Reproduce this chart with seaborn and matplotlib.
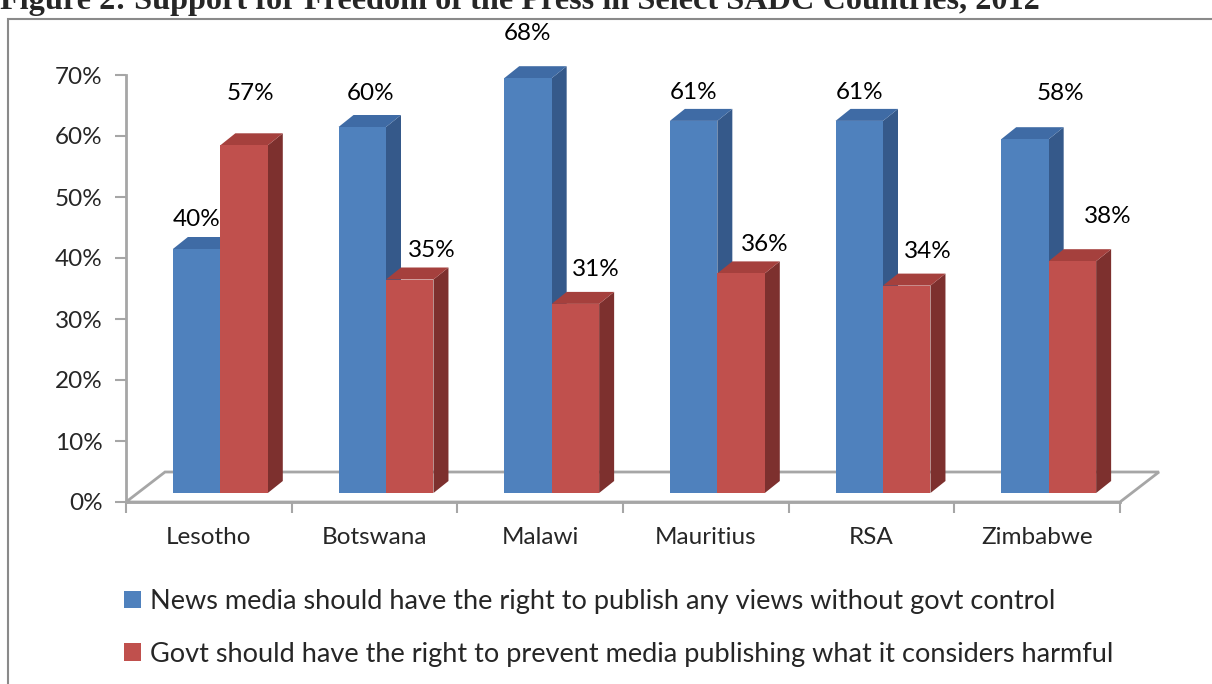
import numpy as np
import pandas as pd
import matplotlib
matplotlib.use("Agg")
import matplotlib.pyplot as plt
import seaborn as sns
from matplotlib.patches import Polygon, Rectangle, Patch
from matplotlib.transforms import ScaledTranslation, IdentityTransform

# ---- data ----
countries = ["Lesotho", "Botswana", "Malawi", "Mauritius", "RSA", "Zimbabwe"]
news_media = [40, 60, 68, 61, 61, 58]
govt_control = [57, 35, 31, 36, 34, 38]
series_names = [
    "News media should have the right to publish any views without govt control",
    "Govt should have the right to prevent media publishing what it considers harmful",
]
y_ticks = [0, 10, 20, 30, 40, 50, 60, 70]
title = "Figure 2: Support for Freedom of the Press in Select SADC Countries, 2012"

# ---- style ----
BLUE, BLUE_SIDE, BLUE_TOP = "#4F81BD", "#35598A", "#3F6BA5"
RED, RED_SIDE, RED_TOP = "#C0504D", "#7D302E", "#A5403D"
GRID = "#A6A6A6"
FS = 17.5
FS_LEG = 19.5

# label offsets (pixels, relative to bar front-top centre)
blue_label_off = [(0, 29), (8, 34), (0, 45), (0, 28), (0, 28), (36, 46)]
red_label_off = [(6, 52), (22, 29), (20, 34), (24, 29), (21, 34), (35, 45)]

sns.set_theme(style="white")
plt.rcParams["font.family"] = ["Lato", "DejaVu Sans"]

W, H = 1212, 684
fig = plt.figure(figsize=(W / 100, H / 100), dpi=100)
ax = fig.add_axes([126 / W, (H - 502) / H, (1120 - 126) / W, (502 - 75) / H])

df = pd.DataFrame({
    "Country": countries * 2,
    "Value": news_media + govt_control,
    "Series": [series_names[0]] * len(countries) + [series_names[1]] * len(countries),
})

sns.barplot(data=df, x="Country", y="Value", hue="Series", hue_order=series_names,
            palette=[BLUE, RED], saturation=1, width=0.573, gap=0, ax=ax,
            legend=False, errorbar=None)

ax.set_xlim(-0.5, 5.5)
ax.set_ylim(0, 70)

# floor
fl = ax.transAxes.transform([(0, 0), (1, 0)])
depth_floor = np.array([39, 30])
floor = Polygon([fl[0], fl[1], fl[1] + depth_floor, fl[0] + depth_floor], closed=True,
                transform=IdentityTransform(), fc="white", ec=GRID, lw=2, zorder=1, clip_on=False)
ax.add_artist(floor)

shift = ScaledTranslation(11.5 / 100, 9 / 100, fig.dpi_scale_trans)
tr = ax.transData + shift
d = np.array([15, 12])

face_cols = [(BLUE_SIDE, BLUE_TOP), (RED_SIDE, RED_TOP)]
offsets = [blue_label_off, red_label_off]
for k, cont in enumerate(ax.containers):
    side_c, top_c = face_cols[k]
    base_z = 3 + 2 * k
    for i, bar in enumerate(cont):
        bar.set_transform(tr)
        bar.set_zorder(base_z + 1)
        bar.set_edgecolor("none")
        bar.set_clip_on(False)
        x0 = bar.get_x()
        x1 = x0 + bar.get_width()
        h = bar.get_height()
        p = tr.transform([(x0, 0), (x1, 0), (x1, h), (x0, h)])
        side = Polygon([p[1], p[2], p[2] + d, p[1] + d], closed=True, transform=IdentityTransform(),
                       fc=side_c, ec="none", zorder=base_z, clip_on=False)
        top = Polygon([p[3], p[2], p[2] + d, p[3] + d], closed=True, transform=IdentityTransform(),
                      fc=top_c, ec="none", zorder=base_z, clip_on=False)
        ax.add_artist(side)
        ax.add_artist(top)
        dx, dy = offsets[k][i]
        ax.annotate(f"{h:.0f}%", xy=(x0 + bar.get_width() / 2, h), xycoords=tr,
                    xytext=(dx, dy), textcoords="offset pixels", ha="center", va="center",
                    fontsize=FS, color="black", zorder=10, annotation_clip=False)

# axes styling
for s in ["top", "right"]:
    ax.spines[s].set_visible(False)
for s in ["left", "bottom"]:
    ax.spines[s].set_color(GRID)
    ax.spines[s].set_linewidth(2)
    ax.spines[s].set_zorder(2)

ax.set_yticks(y_ticks)
ax.set_yticklabels([f"{t}%" for t in y_ticks])
ax.tick_params(axis="y", length=8, width=1.5, color=GRID, pad=9, labelsize=FS, left=True)

ax.set_xticks(np.arange(-0.5, 6, 1))
ax.set_xticklabels([""] * 7)
ax.set_xticks(range(len(countries)), minor=True)
ax.set_xticklabels(countries, minor=True)
ax.tick_params(axis="x", which="major", length=8, width=1.5, color=GRID, bottom=True)
ax.tick_params(axis="x", which="minor", length=0, pad=18, labelsize=FS)
ax.set_xlabel("")
ax.set_ylabel("")
ax.patch.set_alpha(0)

# legend
handles = [Patch(fc=BLUE, ec="none"), Patch(fc=RED, ec="none")]
fig.legend(handles=handles, labels=series_names, loc="upper left",
           bbox_to_anchor=(124 / W, 1 - 589 / H), frameon=False, fontsize=FS_LEG,
           handlelength=0.62, handleheight=0.62, handletextpad=0.35, labelspacing=1.02,
           borderaxespad=0, borderpad=0)

# chart frame
fig.add_artist(Rectangle((8 / W, -0.1), 1.2, (H - 19) / H + 0.1, transform=fig.transFigure,
                         fill=False, ec="#8A8A8A", lw=1.5, clip_on=False))

# title (partially cut at the top, like the reference)
fig.text(0.0, 1 - 9 / H, title, ha="left", va="baseline", fontsize=23.2,
         fontfamily="Liberation Serif", fontweight="bold")

fig.savefig("out.png", dpi=100)
